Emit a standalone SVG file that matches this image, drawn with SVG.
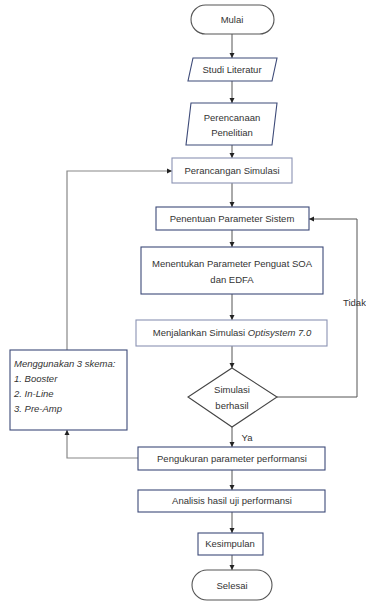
<svg xmlns="http://www.w3.org/2000/svg" width="366" height="601" viewBox="0 0 366 601">
<style>
.box{fill:#fff;stroke:#3d4a78;stroke-width:1.1}
.lbox{fill:#fff;stroke:#8a93b3;stroke-width:1.1}
.t{font-family:"Liberation Sans",Arial,sans-serif;font-size:9.5px;fill:#333;text-anchor:middle}
.ti{font-family:"Liberation Sans",Arial,sans-serif;font-size:9.5px;fill:#333;font-style:italic}
.c{fill:none;stroke:#555;stroke-width:1}
.cg{fill:none;stroke:#888;stroke-width:1.2}
</style>
<defs>
<marker id="a" markerWidth="6" markerHeight="6" refX="5" refY="3" orient="auto" markerUnits="userSpaceOnUse">
<path d="M0,0.5 L5,3 L0,5.5 Z" fill="#222"/>
</marker>
</defs>
<g id="connectors">
<path class="c" d="M232,34 V58" marker-end="url(#a)"/>
<path class="c" d="M232,81 V103" marker-end="url(#a)"/>
<path class="c" d="M232,145 V158" marker-end="url(#a)"/>
<path class="c" d="M232,183 V207" marker-end="url(#a)"/>
<path class="c" d="M232,230 V247" marker-end="url(#a)"/>
<path class="c" d="M232,294 V320" marker-end="url(#a)"/>
<path class="c" d="M232,346 V368" marker-end="url(#a)"/>
<path class="c" d="M232,427 V447" marker-end="url(#a)"/>
<path class="c" d="M277,397 H357 V219 H309" marker-end="url(#a)"/>
<path class="c" d="M232,470 V490" marker-end="url(#a)"/>
<path class="c" d="M232,512 V533" marker-end="url(#a)"/>
<path class="c" d="M232,555 V570" marker-end="url(#a)"/>
<path class="cg" d="M138,458 H67 V430" marker-end="url(#a)"/>
<path class="cg" d="M67,350 V171 H172" marker-end="url(#a)"/>
<text class="t" x="247" y="441">Ya</text>
<text class="t" x="343" y="306" style="text-anchor:start">Tidak</text>
</g>
<g id="mulai"><rect class="box" x="191" y="5" width="83" height="29" rx="14.5" style="stroke:#555"/><text class="t" x="232" y="23">Mulai</text></g>
<g id="studi"><polygon class="box" points="193,58 277,58 272,81 188,81"/><text class="t" x="232" y="73">Studi Literatur</text></g>
<g id="perencanaan"><polygon class="box" points="191,103 277,103 272,145 186,145"/><text class="t" x="232" y="121">Perencanaan</text><text class="t" x="232" y="136">Penelitian</text></g>
<g id="perancangan"><rect class="lbox" x="172" y="158" width="120" height="25"/><text class="t" x="232" y="174">Perancangan Simulasi</text></g>
<g id="penentuan"><rect class="box" x="156" y="207" width="153" height="23"/><text class="t" x="232" y="222">Penentuan Parameter Sistem</text></g>
<g id="menentukan"><rect class="box" x="141" y="247" width="182" height="47"/><text class="t" x="232" y="267">Menentukan Parameter Penguat SOA</text><text class="t" x="232" y="283">dan EDFA</text></g>
<g id="menjalankan"><rect class="lbox" x="136" y="320" width="191" height="26"/><text class="t" x="232" y="336">Menjalankan Simulasi <tspan font-style="italic">Optisystem 7.0</tspan></text></g>
<g id="keputusan"><polygon class="box" points="232,368 277,397 232,427 188,397" style="stroke:#444"/><text class="t" x="232" y="393">Simulasi</text><text class="t" x="232" y="409">berhasil</text></g>
<g id="pengukuran"><rect class="box" x="138" y="447" width="187" height="23"/><text class="t" x="232" y="462">Pengukuran parameter performansi</text></g>
<g id="analisis"><rect class="box" x="138" y="490" width="187" height="22"/><text class="t" x="232" y="504">Analisis hasil uji performansi</text></g>
<g id="kesimpulan"><rect class="box" x="198" y="533" width="65" height="22"/><text class="t" x="230" y="547">Kesimpulan</text></g>
<g id="selesai"><rect class="box" x="192" y="570" width="80" height="30" rx="15" style="stroke:#555"/><text class="t" x="232" y="589">Selesai</text></g>
<g id="skema"><rect class="box" x="10" y="350" width="117" height="80"/><text class="ti" x="14" y="367">Menggunakan 3 skema:</text><text class="ti" x="14" y="382">1. Booster</text><text class="ti" x="14" y="397">2. In-Line</text><text class="ti" x="14" y="412">3. Pre-Amp</text></g>
</svg>
